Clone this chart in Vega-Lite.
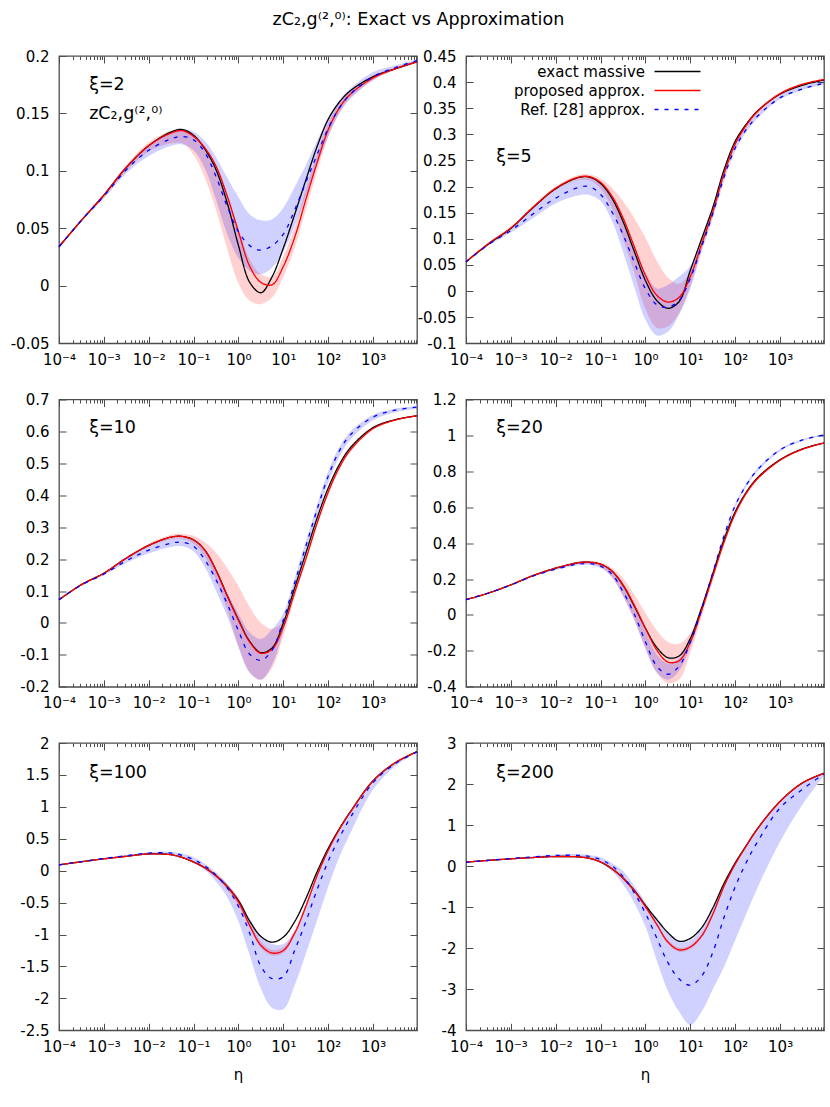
{
  "$schema": "https://vega.github.io/schema/vega-lite/v6.json",
  "background": "white",
  "padding": {"left": 9, "top": 10, "right": 5, "bottom": 10},
  "title": {"text": "zC₂,g⁽²,⁰⁾: Exact vs Approximation", "font": "DejaVu Sans", "fontSize": 17.5, "fontWeight": "normal", "color": "#000000", "anchor": "middle", "offset": 20},
  "datasets": {
    "d1": [
      {"eta": 0.0001, "ex": 0.034, "pr": 0.034, "rf": 0.034, "pl": 0.033, "ph": 0.035, "bl": 0.033, "bh": 0.035},
      {"eta": 0.000316, "ex": 0.057, "pr": 0.057, "rf": 0.057, "pl": 0.056, "ph": 0.058, "bl": 0.056, "bh": 0.058},
      {"eta": 0.001, "ex": 0.079, "pr": 0.079, "rf": 0.078, "pl": 0.077, "ph": 0.080, "bl": 0.076, "bh": 0.080},
      {"eta": 0.00316, "ex": 0.103, "pr": 0.103, "rf": 0.101, "pl": 0.100, "ph": 0.105, "bl": 0.098, "bh": 0.104},
      {"eta": 0.01, "ex": 0.122, "pr": 0.122, "rf": 0.118, "pl": 0.117, "ph": 0.125, "bl": 0.113, "bh": 0.122},
      {"eta": 0.0316, "ex": 0.134, "pr": 0.133, "rf": 0.128, "pl": 0.124, "ph": 0.135, "bl": 0.122, "bh": 0.134},
      {"eta": 0.0562, "ex": 0.136, "pr": 0.135, "rf": 0.130, "pl": 0.124, "ph": 0.136, "bl": 0.123, "bh": 0.136},
      {"eta": 0.1, "ex": 0.131, "pr": 0.130, "rf": 0.127, "pl": 0.114, "ph": 0.132, "bl": 0.118, "bh": 0.134},
      {"eta": 0.178, "ex": 0.119, "pr": 0.120, "rf": 0.116, "pl": 0.094, "ph": 0.121, "bl": 0.102, "bh": 0.126},
      {"eta": 0.316, "ex": 0.101, "pr": 0.104, "rf": 0.095, "pl": 0.066, "ph": 0.105, "bl": 0.075, "bh": 0.112},
      {"eta": 0.562, "ex": 0.072, "pr": 0.078, "rf": 0.069, "pl": 0.032, "ph": 0.080, "bl": 0.045, "bh": 0.094},
      {"eta": 1, "ex": 0.035, "pr": 0.047, "rf": 0.047, "pl": 0.002, "ph": 0.050, "bl": 0.024, "bh": 0.077},
      {"eta": 1.78, "ex": 0.003, "pr": 0.017, "rf": 0.035, "pl": -0.013, "ph": 0.023, "bl": 0.013, "bh": 0.062},
      {"eta": 3.16, "ex": -0.006, "pr": 0.003, "rf": 0.031, "pl": -0.016, "ph": 0.010, "bl": 0.010, "bh": 0.057},
      {"eta": 5.62, "ex": 0.008, "pr": 0.001, "rf": 0.035, "pl": -0.010, "ph": 0.008, "bl": 0.016, "bh": 0.058},
      {"eta": 10, "ex": 0.033, "pr": 0.017, "rf": 0.045, "pl": 0.008, "ph": 0.026, "bl": 0.030, "bh": 0.068},
      {"eta": 17.8, "ex": 0.062, "pr": 0.042, "rf": 0.066, "pl": 0.033, "ph": 0.051, "bl": 0.052, "bh": 0.086},
      {"eta": 31.6, "ex": 0.092, "pr": 0.075, "rf": 0.090, "pl": 0.066, "ph": 0.084, "bl": 0.078, "bh": 0.105},
      {"eta": 56.2, "ex": 0.121, "pr": 0.107, "rf": 0.114, "pl": 0.099, "ph": 0.115, "bl": 0.105, "bh": 0.126},
      {"eta": 100, "ex": 0.145, "pr": 0.136, "rf": 0.137, "pl": 0.130, "ph": 0.142, "bl": 0.130, "bh": 0.146},
      {"eta": 178, "ex": 0.160, "pr": 0.155, "rf": 0.155, "pl": 0.151, "ph": 0.159, "bl": 0.150, "bh": 0.162},
      {"eta": 316, "ex": 0.170, "pr": 0.167, "rf": 0.167, "pl": 0.164, "ph": 0.170, "bl": 0.163, "bh": 0.172},
      {"eta": 1000, "ex": 0.182, "pr": 0.181, "rf": 0.182, "pl": 0.179, "ph": 0.183, "bl": 0.179, "bh": 0.186},
      {"eta": 3162, "ex": 0.189, "pr": 0.189, "rf": 0.190, "pl": 0.188, "ph": 0.190, "bl": 0.188, "bh": 0.192},
      {"eta": 9500, "ex": 0.195, "pr": 0.195, "rf": 0.196, "pl": 0.194, "ph": 0.196, "bl": 0.194, "bh": 0.197}
    ],
    "d2": [
      {"eta": 0.0001, "ex": 0.056, "pr": 0.056, "rf": 0.056, "pl": 0.055, "ph": 0.057, "bl": 0.055, "bh": 0.057},
      {"eta": 0.000316, "ex": 0.090, "pr": 0.091, "rf": 0.089, "pl": 0.089, "ph": 0.092, "bl": 0.087, "bh": 0.091},
      {"eta": 0.001, "ex": 0.120, "pr": 0.121, "rf": 0.116, "pl": 0.119, "ph": 0.123, "bl": 0.112, "bh": 0.120},
      {"eta": 0.00316, "ex": 0.160, "pr": 0.161, "rf": 0.148, "pl": 0.158, "ph": 0.164, "bl": 0.140, "bh": 0.158},
      {"eta": 0.01, "ex": 0.196, "pr": 0.197, "rf": 0.178, "pl": 0.193, "ph": 0.200, "bl": 0.168, "bh": 0.194},
      {"eta": 0.0316, "ex": 0.217, "pr": 0.218, "rf": 0.198, "pl": 0.212, "ph": 0.222, "bl": 0.183, "bh": 0.214},
      {"eta": 0.0562, "ex": 0.218, "pr": 0.219, "rf": 0.200, "pl": 0.212, "ph": 0.223, "bl": 0.184, "bh": 0.216},
      {"eta": 0.1, "ex": 0.206, "pr": 0.208, "rf": 0.185, "pl": 0.196, "ph": 0.215, "bl": 0.172, "bh": 0.206},
      {"eta": 0.178, "ex": 0.178, "pr": 0.182, "rf": 0.152, "pl": 0.160, "ph": 0.198, "bl": 0.135, "bh": 0.180},
      {"eta": 0.316, "ex": 0.133, "pr": 0.140, "rf": 0.108, "pl": 0.100, "ph": 0.172, "bl": 0.075, "bh": 0.138},
      {"eta": 0.562, "ex": 0.076, "pr": 0.085, "rf": 0.055, "pl": 0.035, "ph": 0.140, "bl": 0.008, "bh": 0.085},
      {"eta": 1, "ex": 0.020, "pr": 0.030, "rf": 0.004, "pl": -0.035, "ph": 0.102, "bl": -0.055, "bh": 0.035},
      {"eta": 1.78, "ex": -0.018, "pr": -0.008, "rf": -0.026, "pl": -0.070, "ph": 0.058, "bl": -0.085, "bh": 0.005},
      {"eta": 3.16, "ex": -0.033, "pr": -0.021, "rf": -0.031, "pl": -0.068, "ph": 0.026, "bl": -0.078, "bh": 0.012},
      {"eta": 5.62, "ex": -0.020, "pr": -0.012, "rf": -0.018, "pl": -0.042, "ph": 0.014, "bl": -0.045, "bh": 0.028},
      {"eta": 10, "ex": 0.040, "pr": 0.028, "rf": 0.025, "pl": 0.010, "ph": 0.038, "bl": 0.005, "bh": 0.048},
      {"eta": 17.8, "ex": 0.100, "pr": 0.090, "rf": 0.085, "pl": 0.080, "ph": 0.098, "bl": 0.075, "bh": 0.100},
      {"eta": 31.6, "ex": 0.160, "pr": 0.152, "rf": 0.148, "pl": 0.145, "ph": 0.160, "bl": 0.140, "bh": 0.160},
      {"eta": 56.2, "ex": 0.232, "pr": 0.225, "rf": 0.218, "pl": 0.218, "ph": 0.232, "bl": 0.210, "bh": 0.228},
      {"eta": 100, "ex": 0.287, "pr": 0.282, "rf": 0.274, "pl": 0.276, "ph": 0.288, "bl": 0.268, "bh": 0.282},
      {"eta": 178, "ex": 0.320, "pr": 0.318, "rf": 0.310, "pl": 0.313, "ph": 0.322, "bl": 0.305, "bh": 0.316},
      {"eta": 316, "ex": 0.345, "pr": 0.344, "rf": 0.335, "pl": 0.340, "ph": 0.348, "bl": 0.331, "bh": 0.341},
      {"eta": 1000, "ex": 0.377, "pr": 0.378, "rf": 0.370, "pl": 0.375, "ph": 0.381, "bl": 0.367, "bh": 0.375},
      {"eta": 3162, "ex": 0.394, "pr": 0.396, "rf": 0.387, "pl": 0.393, "ph": 0.398, "bl": 0.385, "bh": 0.392},
      {"eta": 9500, "ex": 0.404, "pr": 0.405, "rf": 0.398, "pl": 0.403, "ph": 0.407, "bl": 0.396, "bh": 0.402}
    ],
    "d3": [
      {"eta": 0.0001, "ex": 0.073, "pr": 0.073, "rf": 0.073, "pl": 0.072, "ph": 0.074, "bl": 0.072, "bh": 0.074},
      {"eta": 0.000316, "ex": 0.120, "pr": 0.120, "rf": 0.119, "pl": 0.118, "ph": 0.121, "bl": 0.117, "bh": 0.121},
      {"eta": 0.001, "ex": 0.156, "pr": 0.156, "rf": 0.153, "pl": 0.154, "ph": 0.158, "bl": 0.150, "bh": 0.157},
      {"eta": 0.00316, "ex": 0.203, "pr": 0.203, "rf": 0.195, "pl": 0.200, "ph": 0.206, "bl": 0.188, "bh": 0.203},
      {"eta": 0.01, "ex": 0.243, "pr": 0.243, "rf": 0.228, "pl": 0.238, "ph": 0.249, "bl": 0.218, "bh": 0.240},
      {"eta": 0.0316, "ex": 0.269, "pr": 0.269, "rf": 0.250, "pl": 0.262, "ph": 0.276, "bl": 0.238, "bh": 0.265},
      {"eta": 0.0562, "ex": 0.271, "pr": 0.271, "rf": 0.253, "pl": 0.263, "ph": 0.279, "bl": 0.240, "bh": 0.268},
      {"eta": 0.1, "ex": 0.260, "pr": 0.260, "rf": 0.240, "pl": 0.249, "ph": 0.273, "bl": 0.224, "bh": 0.257},
      {"eta": 0.178, "ex": 0.228, "pr": 0.228, "rf": 0.198, "pl": 0.208, "ph": 0.253, "bl": 0.175, "bh": 0.225},
      {"eta": 0.316, "ex": 0.165, "pr": 0.165, "rf": 0.135, "pl": 0.135, "ph": 0.220, "bl": 0.100, "bh": 0.165},
      {"eta": 0.562, "ex": 0.085, "pr": 0.085, "rf": 0.060, "pl": 0.040, "ph": 0.172, "bl": 0.020, "bh": 0.095},
      {"eta": 1, "ex": 0.010, "pr": 0.008, "rf": -0.025, "pl": -0.075, "ph": 0.115, "bl": -0.075, "bh": 0.028},
      {"eta": 1.78, "ex": -0.058, "pr": -0.060, "rf": -0.098, "pl": -0.155, "ph": 0.050, "bl": -0.155, "bh": -0.030},
      {"eta": 3.16, "ex": -0.093, "pr": -0.095, "rf": -0.117, "pl": -0.178, "ph": 0.000, "bl": -0.178, "bh": -0.050},
      {"eta": 5.62, "ex": -0.078, "pr": -0.082, "rf": -0.085, "pl": -0.140, "ph": -0.018, "bl": -0.130, "bh": -0.020},
      {"eta": 10, "ex": 0.000, "pr": -0.012, "rf": 0.010, "pl": -0.040, "ph": 0.005, "bl": -0.025, "bh": 0.030},
      {"eta": 17.8, "ex": 0.110, "pr": 0.095, "rf": 0.125, "pl": 0.080, "ph": 0.105, "bl": 0.100, "bh": 0.140},
      {"eta": 31.6, "ex": 0.218, "pr": 0.200, "rf": 0.240, "pl": 0.190, "ph": 0.210, "bl": 0.218, "bh": 0.255},
      {"eta": 56.2, "ex": 0.328, "pr": 0.312, "rf": 0.355, "pl": 0.302, "ph": 0.320, "bl": 0.335, "bh": 0.370},
      {"eta": 100, "ex": 0.423, "pr": 0.410, "rf": 0.460, "pl": 0.400, "ph": 0.418, "bl": 0.440, "bh": 0.475},
      {"eta": 178, "ex": 0.497, "pr": 0.488, "rf": 0.540, "pl": 0.480, "ph": 0.495, "bl": 0.522, "bh": 0.552},
      {"eta": 316, "ex": 0.550, "pr": 0.543, "rf": 0.590, "pl": 0.537, "ph": 0.548, "bl": 0.575, "bh": 0.600},
      {"eta": 1000, "ex": 0.612, "pr": 0.609, "rf": 0.645, "pl": 0.605, "ph": 0.612, "bl": 0.635, "bh": 0.652},
      {"eta": 3162, "ex": 0.637, "pr": 0.636, "rf": 0.667, "pl": 0.634, "ph": 0.638, "bl": 0.660, "bh": 0.672},
      {"eta": 9500, "ex": 0.649, "pr": 0.649, "rf": 0.676, "pl": 0.647, "ph": 0.651, "bl": 0.671, "bh": 0.680}
    ],
    "d4": [
      {"eta": 0.0001, "ex": 0.085, "pr": 0.085, "rf": 0.085, "pl": 0.084, "ph": 0.086, "bl": 0.084, "bh": 0.086},
      {"eta": 0.000316, "ex": 0.122, "pr": 0.122, "rf": 0.122, "pl": 0.121, "ph": 0.123, "bl": 0.120, "bh": 0.124},
      {"eta": 0.001, "ex": 0.168, "pr": 0.168, "rf": 0.167, "pl": 0.166, "ph": 0.170, "bl": 0.165, "bh": 0.170},
      {"eta": 0.00316, "ex": 0.220, "pr": 0.220, "rf": 0.217, "pl": 0.217, "ph": 0.223, "bl": 0.213, "bh": 0.221},
      {"eta": 0.01, "ex": 0.261, "pr": 0.261, "rf": 0.255, "pl": 0.256, "ph": 0.266, "bl": 0.250, "bh": 0.260},
      {"eta": 0.0316, "ex": 0.291, "pr": 0.291, "rf": 0.283, "pl": 0.284, "ph": 0.298, "bl": 0.277, "bh": 0.290},
      {"eta": 0.0562, "ex": 0.294, "pr": 0.294, "rf": 0.286, "pl": 0.285, "ph": 0.301, "bl": 0.278, "bh": 0.292},
      {"eta": 0.1, "ex": 0.283, "pr": 0.283, "rf": 0.272, "pl": 0.268, "ph": 0.293, "bl": 0.262, "bh": 0.282},
      {"eta": 0.178, "ex": 0.245, "pr": 0.245, "rf": 0.228, "pl": 0.210, "ph": 0.262, "bl": 0.212, "bh": 0.243},
      {"eta": 0.316, "ex": 0.165, "pr": 0.168, "rf": 0.130, "pl": 0.105, "ph": 0.205, "bl": 0.105, "bh": 0.160},
      {"eta": 0.562, "ex": 0.050, "pr": 0.055, "rf": 0.005, "pl": -0.030, "ph": 0.115, "bl": -0.025, "bh": 0.045},
      {"eta": 1, "ex": -0.075, "pr": -0.075, "rf": -0.150, "pl": -0.185, "ph": 0.010, "bl": -0.190, "bh": -0.090},
      {"eta": 1.78, "ex": -0.180, "pr": -0.195, "rf": -0.285, "pl": -0.320, "ph": -0.085, "bl": -0.320, "bh": -0.220},
      {"eta": 3.16, "ex": -0.238, "pr": -0.262, "rf": -0.330, "pl": -0.380, "ph": -0.150, "bl": -0.360, "bh": -0.270},
      {"eta": 5.62, "ex": -0.228, "pr": -0.255, "rf": -0.285, "pl": -0.360, "ph": -0.160, "bl": -0.310, "bh": -0.240},
      {"eta": 10, "ex": -0.130, "pr": -0.150, "rf": -0.150, "pl": -0.210, "ph": -0.100, "bl": -0.175, "bh": -0.120},
      {"eta": 17.8, "ex": 0.040, "pr": 0.025, "rf": 0.030, "pl": -0.010, "ph": 0.050, "bl": 0.010, "bh": 0.045},
      {"eta": 31.6, "ex": 0.230, "pr": 0.215, "rf": 0.235, "pl": 0.195, "ph": 0.235, "bl": 0.220, "bh": 0.245},
      {"eta": 56.2, "ex": 0.420, "pr": 0.405, "rf": 0.440, "pl": 0.390, "ph": 0.420, "bl": 0.428, "bh": 0.450},
      {"eta": 100, "ex": 0.575, "pr": 0.565, "rf": 0.610, "pl": 0.552, "ph": 0.578, "bl": 0.598, "bh": 0.620},
      {"eta": 178, "ex": 0.685, "pr": 0.680, "rf": 0.725, "pl": 0.670, "ph": 0.690, "bl": 0.715, "bh": 0.735},
      {"eta": 316, "ex": 0.765, "pr": 0.760, "rf": 0.810, "pl": 0.752, "ph": 0.768, "bl": 0.800, "bh": 0.818},
      {"eta": 1000, "ex": 0.865, "pr": 0.862, "rf": 0.920, "pl": 0.858, "ph": 0.866, "bl": 0.912, "bh": 0.926},
      {"eta": 3162, "ex": 0.925, "pr": 0.923, "rf": 0.975, "pl": 0.920, "ph": 0.926, "bl": 0.969, "bh": 0.980},
      {"eta": 9500, "ex": 0.958, "pr": 0.958, "rf": 1.003, "pl": 0.955, "ph": 0.961, "bl": 0.998, "bh": 1.007}
    ],
    "d5": [
      {"eta": 0.0001, "ex": 0.092, "pr": 0.092, "rf": 0.092, "pl": 0.091, "ph": 0.093, "bl": 0.090, "bh": 0.094},
      {"eta": 0.000316, "ex": 0.140, "pr": 0.140, "rf": 0.142, "pl": 0.139, "ph": 0.141, "bl": 0.138, "bh": 0.146},
      {"eta": 0.001, "ex": 0.186, "pr": 0.186, "rf": 0.190, "pl": 0.185, "ph": 0.187, "bl": 0.184, "bh": 0.196},
      {"eta": 0.00316, "ex": 0.225, "pr": 0.225, "rf": 0.235, "pl": 0.223, "ph": 0.227, "bl": 0.225, "bh": 0.245},
      {"eta": 0.01, "ex": 0.262, "pr": 0.262, "rf": 0.275, "pl": 0.259, "ph": 0.265, "bl": 0.260, "bh": 0.290},
      {"eta": 0.0316, "ex": 0.250, "pr": 0.250, "rf": 0.275, "pl": 0.245, "ph": 0.256, "bl": 0.250, "bh": 0.298},
      {"eta": 0.0562, "ex": 0.205, "pr": 0.205, "rf": 0.240, "pl": 0.198, "ph": 0.214, "bl": 0.205, "bh": 0.268},
      {"eta": 0.1, "ex": 0.135, "pr": 0.135, "rf": 0.175, "pl": 0.120, "ph": 0.150, "bl": 0.130, "bh": 0.210},
      {"eta": 0.178, "ex": 0.045, "pr": 0.045, "rf": 0.075, "pl": 0.025, "ph": 0.065, "bl": 0.010, "bh": 0.110},
      {"eta": 0.316, "ex": -0.080, "pr": -0.080, "rf": -0.070, "pl": -0.110, "ph": -0.050, "bl": -0.170, "bh": -0.030},
      {"eta": 0.562, "ex": -0.250, "pr": -0.255, "rf": -0.270, "pl": -0.300, "ph": -0.210, "bl": -0.420, "bh": -0.200},
      {"eta": 1, "ex": -0.470, "pr": -0.490, "rf": -0.560, "pl": -0.550, "ph": -0.420, "bl": -0.800, "bh": -0.440},
      {"eta": 1.78, "ex": -0.790, "pr": -0.860, "rf": -0.980, "pl": -0.900, "ph": -0.780, "bl": -1.330, "bh": -0.760},
      {"eta": 3.16, "ex": -1.030, "pr": -1.170, "rf": -1.500, "pl": -1.210, "ph": -1.110, "bl": -1.850, "bh": -1.020},
      {"eta": 5.62, "ex": -1.120, "pr": -1.290, "rf": -1.690, "pl": -1.330, "ph": -1.240, "bl": -2.150, "bh": -1.150},
      {"eta": 10, "ex": -1.040, "pr": -1.250, "rf": -1.660, "pl": -1.290, "ph": -1.200, "bl": -2.170, "bh": -1.150},
      {"eta": 17.8, "ex": -0.800, "pr": -0.980, "rf": -1.250, "pl": -1.020, "ph": -0.940, "bl": -1.800, "bh": -0.950},
      {"eta": 31.6, "ex": -0.440, "pr": -0.560, "rf": -0.800, "pl": -0.600, "ph": -0.520, "bl": -1.300, "bh": -0.560},
      {"eta": 56.2, "ex": -0.020, "pr": -0.080, "rf": -0.300, "pl": -0.110, "ph": -0.050, "bl": -0.780, "bh": -0.080},
      {"eta": 100, "ex": 0.350, "pr": 0.320, "rf": 0.150, "pl": 0.300, "ph": 0.340, "bl": -0.250, "bh": 0.330},
      {"eta": 178, "ex": 0.660, "pr": 0.650, "rf": 0.520, "pl": 0.640, "ph": 0.660, "bl": 0.220, "bh": 0.660},
      {"eta": 316, "ex": 0.930, "pr": 0.925, "rf": 0.840, "pl": 0.915, "ph": 0.935, "bl": 0.600, "bh": 0.930},
      {"eta": 1000, "ex": 1.410, "pr": 1.405, "rf": 1.380, "pl": 1.400, "ph": 1.412, "bl": 1.270, "bh": 1.410},
      {"eta": 3162, "ex": 1.695, "pr": 1.695, "rf": 1.680, "pl": 1.690, "ph": 1.700, "bl": 1.640, "bh": 1.700},
      {"eta": 9500, "ex": 1.864, "pr": 1.864, "rf": 1.860, "pl": 1.860, "ph": 1.868, "bl": 1.850, "bh": 1.868}
    ],
    "d6": [
      {"eta": 0.0001, "ex": 0.097, "pr": 0.097, "rf": 0.097, "pl": 0.096, "ph": 0.098, "bl": 0.095, "bh": 0.099},
      {"eta": 0.000316, "ex": 0.140, "pr": 0.140, "rf": 0.142, "pl": 0.139, "ph": 0.141, "bl": 0.138, "bh": 0.146},
      {"eta": 0.001, "ex": 0.178, "pr": 0.178, "rf": 0.185, "pl": 0.177, "ph": 0.180, "bl": 0.178, "bh": 0.192},
      {"eta": 0.00316, "ex": 0.210, "pr": 0.210, "rf": 0.225, "pl": 0.208, "ph": 0.213, "bl": 0.213, "bh": 0.237},
      {"eta": 0.01, "ex": 0.234, "pr": 0.234, "rf": 0.260, "pl": 0.230, "ph": 0.238, "bl": 0.240, "bh": 0.282},
      {"eta": 0.0316, "ex": 0.225, "pr": 0.225, "rf": 0.262, "pl": 0.220, "ph": 0.232, "bl": 0.230, "bh": 0.292},
      {"eta": 0.0562, "ex": 0.190, "pr": 0.190, "rf": 0.235, "pl": 0.182, "ph": 0.200, "bl": 0.195, "bh": 0.272},
      {"eta": 0.1, "ex": 0.100, "pr": 0.100, "rf": 0.160, "pl": 0.085, "ph": 0.120, "bl": 0.080, "bh": 0.215},
      {"eta": 0.178, "ex": -0.065, "pr": -0.060, "rf": 0.010, "pl": -0.085, "ph": -0.035, "bl": -0.120, "bh": 0.070},
      {"eta": 0.316, "ex": -0.290, "pr": -0.295, "rf": -0.250, "pl": -0.335, "ph": -0.250, "bl": -0.450, "bh": -0.120},
      {"eta": 0.562, "ex": -0.590, "pr": -0.600, "rf": -0.650, "pl": -0.650, "ph": -0.550, "bl": -0.900, "bh": -0.480},
      {"eta": 1, "ex": -0.960, "pr": -0.990, "rf": -1.150, "pl": -1.040, "ph": -0.930, "bl": -1.480, "bh": -0.880},
      {"eta": 1.78, "ex": -1.300, "pr": -1.420, "rf": -1.750, "pl": -1.460, "ph": -1.380, "bl": -2.300, "bh": -1.300},
      {"eta": 3.16, "ex": -1.620, "pr": -1.850, "rf": -2.350, "pl": -1.900, "ph": -1.800, "bl": -3.050, "bh": -1.620},
      {"eta": 5.62, "ex": -1.830, "pr": -2.040, "rf": -2.750, "pl": -2.090, "ph": -1.990, "bl": -3.550, "bh": -1.830},
      {"eta": 10, "ex": -1.760, "pr": -1.970, "rf": -2.900, "pl": -2.020, "ph": -1.920, "bl": -3.870, "bh": -1.800},
      {"eta": 17.8, "ex": -1.500, "pr": -1.700, "rf": -2.680, "pl": -1.750, "ph": -1.650, "bl": -3.550, "bh": -1.520},
      {"eta": 31.6, "ex": -1.020, "pr": -1.170, "rf": -2.100, "pl": -1.220, "ph": -1.120, "bl": -3.000, "bh": -1.040},
      {"eta": 56.2, "ex": -0.420, "pr": -0.490, "rf": -1.250, "pl": -0.530, "ph": -0.450, "bl": -2.450, "bh": -0.430},
      {"eta": 100, "ex": 0.080, "pr": 0.050, "rf": -0.500, "pl": 0.020, "ph": 0.080, "bl": -1.800, "bh": 0.080},
      {"eta": 178, "ex": 0.510, "pr": 0.500, "rf": 0.100, "pl": 0.480, "ph": 0.520, "bl": -1.150, "bh": 0.510},
      {"eta": 316, "ex": 0.920, "pr": 0.915, "rf": 0.600, "pl": 0.900, "ph": 0.930, "bl": -0.520, "bh": 0.920},
      {"eta": 1000, "ex": 1.580, "pr": 1.575, "rf": 1.420, "pl": 1.565, "ph": 1.585, "bl": 0.600, "bh": 1.580},
      {"eta": 3162, "ex": 2.030, "pr": 2.030, "rf": 1.870, "pl": 2.025, "ph": 2.035, "bl": 1.500, "bh": 2.030},
      {"eta": 9500, "ex": 2.262, "pr": 2.262, "rf": 2.250, "pl": 2.255, "ph": 2.268, "bl": 2.200, "bh": 2.270}
    ]
  },
  "columns": 2,
  "spacing": {"row": 55.5, "column": 49},
  "bounds": "flush",
  "resolve": {"scale": {"color": "independent", "strokeDash": "independent"}, "legend": {"color": "independent", "strokeDash": "independent"}},
  "concat": [
    {
      "width": 358, "height": 287.3,
      "data": {"name": "d1"},
      "resolve": {"axis": {"x": "independent", "y": "independent"}},
      "layer": [
        {"mark": {"type": "area", "color": "#ff0000", "fillOpacity": 0.18, "interpolate": "catmull-rom"},
         "encoding": {
           "x": {"field": "eta", "type": "quantitative", "scale": {"type": "log", "domain": [0.0001, 9500], "nice": false}, "axis": {"orient": "bottom", "tickCount": 50, "labelExpr": "abs(log(datum.value)/LN10 - round(log(datum.value)/LN10)) < 0.001 ? '10' + ['⁻⁴','⁻³','⁻²','⁻¹','⁰','¹','²','³','⁴'][round(log(datum.value)/LN10)+4] : ''", "tickSize": {"condition": {"test": "abs(log(datum.value)/LN10 - round(log(datum.value)/LN10)) < 0.001", "value": -7}, "value": -3.5}, "labelPadding": 16, "labelFlush": false, "labelOverlap": false, "labelBound": false, "title": null}},
           "y": {"field": "pl", "type": "quantitative", "scale": {"domain": [-0.05, 0.2], "nice": false, "zero": false}, "axis": {"orient": "left", "values": [-0.05, 0, 0.05, 0.1, 0.15, 0.2], "format": "~g", "tickSize": -7, "labelPadding": 17, "title": null}},
           "y2": {"field": "ph"}}},
        {"mark": {"type": "area", "color": "#0000ff", "fillOpacity": 0.18, "interpolate": "catmull-rom"},
         "encoding": {
           "x": {"field": "eta", "type": "quantitative", "axis": {"orient": "top", "tickCount": 50, "labels": false, "tickSize": {"condition": {"test": "abs(log(datum.value)/LN10 - round(log(datum.value)/LN10)) < 0.001", "value": -7}, "value": -3.5}, "title": null}},
           "y": {"field": "bl", "type": "quantitative", "axis": {"orient": "right", "values": [-0.05, 0, 0.05, 0.1, 0.15, 0.2], "labels": false, "tickSize": -7, "title": null}},
           "y2": {"field": "bh"}}},
        {"transform": [{"fold": ["ex", "pr", "rf"], "as": ["s", "v"]}],
         "mark": {"type": "line", "strokeWidth": 1.3, "interpolate": "catmull-rom"},
         "encoding": {
           "x": {"field": "eta", "type": "quantitative", "axis": null},
           "y": {"field": "v", "type": "quantitative", "axis": null},
           "color": {"field": "s", "type": "nominal", "scale": {"domain": ["ex", "pr", "rf"], "range": ["#000000", "#ff0000", "#0000ff"]}, "legend": null},
           "strokeDash": {"field": "s", "type": "nominal", "scale": {"domain": ["ex", "pr", "rf"], "range": [[1, 0], [1, 0], [4, 6]]}, "legend": null}}},
        {"data": {"values": [{}]},
         "mark": {"type": "text", "font": "DejaVu Sans", "fontSize": 17.5, "align": "left", "baseline": "middle", "color": "#000000"},
         "encoding": {"x": {"datum": 0.00047, "type": "quantitative", "axis": null}, "y": {"datum": 0.1747, "type": "quantitative", "axis": null}, "text": {"value": "ξ=2"}}},
        {"data": {"values": [{}]},
         "mark": {"type": "text", "font": "DejaVu Sans", "fontSize": 17.5, "align": "left", "baseline": "middle", "color": "#000000"},
         "encoding": {"x": {"datum": 0.00047, "type": "quantitative", "axis": null}, "y": {"datum": 0.1495, "type": "quantitative", "axis": null}, "text": {"value": "zC₂,g⁽²,⁰⁾"}}}
      ]
    },
    {
      "width": 358, "height": 287.3,
      "data": {"name": "d2"},
      "resolve": {"axis": {"x": "independent", "y": "independent"}},
      "layer": [
        {"mark": {"type": "area", "color": "#ff0000", "fillOpacity": 0.18, "interpolate": "catmull-rom"},
         "encoding": {
           "x": {"field": "eta", "type": "quantitative", "scale": {"type": "log", "domain": [0.0001, 9500], "nice": false}, "axis": {"orient": "bottom", "tickCount": 50, "labelExpr": "abs(log(datum.value)/LN10 - round(log(datum.value)/LN10)) < 0.001 ? '10' + ['⁻⁴','⁻³','⁻²','⁻¹','⁰','¹','²','³','⁴'][round(log(datum.value)/LN10)+4] : ''", "tickSize": {"condition": {"test": "abs(log(datum.value)/LN10 - round(log(datum.value)/LN10)) < 0.001", "value": -7}, "value": -3.5}, "labelPadding": 16, "labelFlush": false, "labelOverlap": false, "labelBound": false, "title": null}},
           "y": {"field": "pl", "type": "quantitative", "scale": {"domain": [-0.1, 0.45], "nice": false, "zero": false}, "axis": {"orient": "left", "values": [-0.1, -0.05, 0, 0.05, 0.1, 0.15, 0.2, 0.25, 0.3, 0.35, 0.4, 0.45], "format": "~g", "tickSize": -7, "labelPadding": 17, "title": null}},
           "y2": {"field": "ph"}}},
        {"mark": {"type": "area", "color": "#0000ff", "fillOpacity": 0.18, "interpolate": "catmull-rom"},
         "encoding": {
           "x": {"field": "eta", "type": "quantitative", "axis": {"orient": "top", "tickCount": 50, "labels": false, "tickSize": {"condition": {"test": "abs(log(datum.value)/LN10 - round(log(datum.value)/LN10)) < 0.001", "value": -7}, "value": -3.5}, "title": null}},
           "y": {"field": "bl", "type": "quantitative", "axis": {"orient": "right", "values": [-0.1, -0.05, 0, 0.05, 0.1, 0.15, 0.2, 0.25, 0.3, 0.35, 0.4, 0.45], "labels": false, "tickSize": -7, "title": null}},
           "y2": {"field": "bh"}}},
        {"transform": [{"fold": ["ex", "pr", "rf"], "as": ["s", "v"]}],
         "mark": {"type": "line", "strokeWidth": 1.3, "interpolate": "catmull-rom"},
         "encoding": {
           "x": {"field": "eta", "type": "quantitative", "axis": null},
           "y": {"field": "v", "type": "quantitative", "axis": null},
           "color": {"field": "s", "type": "nominal", "scale": {"domain": ["ex", "pr", "rf"], "range": ["#000000", "#ff0000", "#0000ff"]},
             "legend": {"orient": "none", "legendX": 204, "legendY": 8, "title": null, "symbolType": "M-4,0H4", "symbolSize": 132.25, "symbolStrokeWidth": 1.3, "labelFont": "DejaVu Sans", "labelFontSize": 15, "labelColor": "#000000", "labelAlign": "right", "labelOffset": -40, "labelLimit": 400, "rowPadding": 3, "padding": 0, "labelExpr": "datum.label == 'ex' ? 'exact massive' : datum.label == 'pr' ? 'proposed approx.' : 'Ref. [28] approx.'"}},
           "strokeDash": {"field": "s", "type": "nominal", "scale": {"domain": ["ex", "pr", "rf"], "range": [[1, 0], [1, 0], [4, 6]]},
             "legend": {"orient": "none", "legendX": 204, "legendY": 8, "title": null, "symbolType": "M-4,0H4", "symbolSize": 132.25, "symbolStrokeWidth": 1.3, "labelFont": "DejaVu Sans", "labelFontSize": 15, "labelColor": "#000000", "labelAlign": "right", "labelOffset": -40, "labelLimit": 400, "rowPadding": 3, "padding": 0, "labelExpr": "datum.label == 'ex' ? 'exact massive' : datum.label == 'pr' ? 'proposed approx.' : 'Ref. [28] approx.'"}}}},
        {"data": {"values": [{}]},
         "mark": {"type": "text", "font": "DejaVu Sans", "fontSize": 17.5, "align": "left", "baseline": "middle", "color": "#000000"},
         "encoding": {"x": {"datum": 0.00047, "type": "quantitative", "axis": null}, "y": {"datum": 0.257, "type": "quantitative", "axis": null}, "text": {"value": "ξ=5"}}}
      ]
    },
    {
      "width": 358, "height": 287.3,
      "data": {"name": "d3"},
      "resolve": {"axis": {"x": "independent", "y": "independent"}},
      "layer": [
        {"mark": {"type": "area", "color": "#ff0000", "fillOpacity": 0.18, "interpolate": "catmull-rom"},
         "encoding": {
           "x": {"field": "eta", "type": "quantitative", "scale": {"type": "log", "domain": [0.0001, 9500], "nice": false}, "axis": {"orient": "bottom", "tickCount": 50, "labelExpr": "abs(log(datum.value)/LN10 - round(log(datum.value)/LN10)) < 0.001 ? '10' + ['⁻⁴','⁻³','⁻²','⁻¹','⁰','¹','²','³','⁴'][round(log(datum.value)/LN10)+4] : ''", "tickSize": {"condition": {"test": "abs(log(datum.value)/LN10 - round(log(datum.value)/LN10)) < 0.001", "value": -7}, "value": -3.5}, "labelPadding": 16, "labelFlush": false, "labelOverlap": false, "labelBound": false, "title": null}},
           "y": {"field": "pl", "type": "quantitative", "scale": {"domain": [-0.2, 0.7], "nice": false, "zero": false}, "axis": {"orient": "left", "values": [-0.2, -0.1, 0, 0.1, 0.2, 0.3, 0.4, 0.5, 0.6, 0.7], "format": "~g", "tickSize": -7, "labelPadding": 17, "title": null}},
           "y2": {"field": "ph"}}},
        {"mark": {"type": "area", "color": "#0000ff", "fillOpacity": 0.18, "interpolate": "catmull-rom"},
         "encoding": {
           "x": {"field": "eta", "type": "quantitative", "axis": {"orient": "top", "tickCount": 50, "labels": false, "tickSize": {"condition": {"test": "abs(log(datum.value)/LN10 - round(log(datum.value)/LN10)) < 0.001", "value": -7}, "value": -3.5}, "title": null}},
           "y": {"field": "bl", "type": "quantitative", "axis": {"orient": "right", "values": [-0.2, -0.1, 0, 0.1, 0.2, 0.3, 0.4, 0.5, 0.6, 0.7], "labels": false, "tickSize": -7, "title": null}},
           "y2": {"field": "bh"}}},
        {"transform": [{"fold": ["ex", "pr", "rf"], "as": ["s", "v"]}],
         "mark": {"type": "line", "strokeWidth": 1.3, "interpolate": "catmull-rom"},
         "encoding": {
           "x": {"field": "eta", "type": "quantitative", "axis": null},
           "y": {"field": "v", "type": "quantitative", "axis": null},
           "color": {"field": "s", "type": "nominal", "scale": {"domain": ["ex", "pr", "rf"], "range": ["#000000", "#ff0000", "#0000ff"]}, "legend": null},
           "strokeDash": {"field": "s", "type": "nominal", "scale": {"domain": ["ex", "pr", "rf"], "range": [[1, 0], [1, 0], [4, 6]]}, "legend": null}}},
        {"data": {"values": [{}]},
         "mark": {"type": "text", "font": "DejaVu Sans", "fontSize": 17.5, "align": "left", "baseline": "middle", "color": "#000000"},
         "encoding": {"x": {"datum": 0.00047, "type": "quantitative", "axis": null}, "y": {"datum": 0.6115, "type": "quantitative", "axis": null}, "text": {"value": "ξ=10"}}}
      ]
    },
    {
      "width": 358, "height": 287.3,
      "data": {"name": "d4"},
      "resolve": {"axis": {"x": "independent", "y": "independent"}},
      "layer": [
        {"mark": {"type": "area", "color": "#ff0000", "fillOpacity": 0.18, "interpolate": "catmull-rom"},
         "encoding": {
           "x": {"field": "eta", "type": "quantitative", "scale": {"type": "log", "domain": [0.0001, 9500], "nice": false}, "axis": {"orient": "bottom", "tickCount": 50, "labelExpr": "abs(log(datum.value)/LN10 - round(log(datum.value)/LN10)) < 0.001 ? '10' + ['⁻⁴','⁻³','⁻²','⁻¹','⁰','¹','²','³','⁴'][round(log(datum.value)/LN10)+4] : ''", "tickSize": {"condition": {"test": "abs(log(datum.value)/LN10 - round(log(datum.value)/LN10)) < 0.001", "value": -7}, "value": -3.5}, "labelPadding": 16, "labelFlush": false, "labelOverlap": false, "labelBound": false, "title": null}},
           "y": {"field": "pl", "type": "quantitative", "scale": {"domain": [-0.4, 1.2], "nice": false, "zero": false}, "axis": {"orient": "left", "values": [-0.4, -0.2, 0, 0.2, 0.4, 0.6, 0.8, 1, 1.2], "format": "~g", "tickSize": -7, "labelPadding": 17, "title": null}},
           "y2": {"field": "ph"}}},
        {"mark": {"type": "area", "color": "#0000ff", "fillOpacity": 0.18, "interpolate": "catmull-rom"},
         "encoding": {
           "x": {"field": "eta", "type": "quantitative", "axis": {"orient": "top", "tickCount": 50, "labels": false, "tickSize": {"condition": {"test": "abs(log(datum.value)/LN10 - round(log(datum.value)/LN10)) < 0.001", "value": -7}, "value": -3.5}, "title": null}},
           "y": {"field": "bl", "type": "quantitative", "axis": {"orient": "right", "values": [-0.4, -0.2, 0, 0.2, 0.4, 0.6, 0.8, 1, 1.2], "labels": false, "tickSize": -7, "title": null}},
           "y2": {"field": "bh"}}},
        {"transform": [{"fold": ["ex", "pr", "rf"], "as": ["s", "v"]}],
         "mark": {"type": "line", "strokeWidth": 1.3, "interpolate": "catmull-rom"},
         "encoding": {
           "x": {"field": "eta", "type": "quantitative", "axis": null},
           "y": {"field": "v", "type": "quantitative", "axis": null},
           "color": {"field": "s", "type": "nominal", "scale": {"domain": ["ex", "pr", "rf"], "range": ["#000000", "#ff0000", "#0000ff"]}, "legend": null},
           "strokeDash": {"field": "s", "type": "nominal", "scale": {"domain": ["ex", "pr", "rf"], "range": [[1, 0], [1, 0], [4, 6]]}, "legend": null}}},
        {"data": {"values": [{}]},
         "mark": {"type": "text", "font": "DejaVu Sans", "fontSize": 17.5, "align": "left", "baseline": "middle", "color": "#000000"},
         "encoding": {"x": {"datum": 0.00047, "type": "quantitative", "axis": null}, "y": {"datum": 1.043, "type": "quantitative", "axis": null}, "text": {"value": "ξ=20"}}}
      ]
    },
    {
      "width": 358, "height": 287.3,
      "data": {"name": "d5"},
      "resolve": {"axis": {"x": "independent", "y": "independent"}},
      "layer": [
        {"mark": {"type": "area", "color": "#ff0000", "fillOpacity": 0.18, "interpolate": "catmull-rom"},
         "encoding": {
           "x": {"field": "eta", "type": "quantitative", "scale": {"type": "log", "domain": [0.0001, 9500], "nice": false}, "axis": {"orient": "bottom", "tickCount": 50, "labelExpr": "abs(log(datum.value)/LN10 - round(log(datum.value)/LN10)) < 0.001 ? '10' + ['⁻⁴','⁻³','⁻²','⁻¹','⁰','¹','²','³','⁴'][round(log(datum.value)/LN10)+4] : ''", "tickSize": {"condition": {"test": "abs(log(datum.value)/LN10 - round(log(datum.value)/LN10)) < 0.001", "value": -7}, "value": -3.5}, "labelPadding": 16, "labelFlush": false, "labelOverlap": false, "labelBound": false, "title": "η", "titlePadding": 10}},
           "y": {"field": "pl", "type": "quantitative", "scale": {"domain": [-2.5, 2], "nice": false, "zero": false}, "axis": {"orient": "left", "values": [-2.5, -2, -1.5, -1, -0.5, 0, 0.5, 1, 1.5, 2], "format": "~g", "tickSize": -7, "labelPadding": 17, "title": null}},
           "y2": {"field": "ph"}}},
        {"mark": {"type": "area", "color": "#0000ff", "fillOpacity": 0.18, "interpolate": "catmull-rom"},
         "encoding": {
           "x": {"field": "eta", "type": "quantitative", "axis": {"orient": "top", "tickCount": 50, "labels": false, "tickSize": {"condition": {"test": "abs(log(datum.value)/LN10 - round(log(datum.value)/LN10)) < 0.001", "value": -7}, "value": -3.5}, "title": null}},
           "y": {"field": "bl", "type": "quantitative", "axis": {"orient": "right", "values": [-2.5, -2, -1.5, -1, -0.5, 0, 0.5, 1, 1.5, 2], "labels": false, "tickSize": -7, "title": null}},
           "y2": {"field": "bh"}}},
        {"transform": [{"fold": ["ex", "pr", "rf"], "as": ["s", "v"]}],
         "mark": {"type": "line", "strokeWidth": 1.3, "interpolate": "catmull-rom"},
         "encoding": {
           "x": {"field": "eta", "type": "quantitative", "axis": null},
           "y": {"field": "v", "type": "quantitative", "axis": null},
           "color": {"field": "s", "type": "nominal", "scale": {"domain": ["ex", "pr", "rf"], "range": ["#000000", "#ff0000", "#0000ff"]}, "legend": null},
           "strokeDash": {"field": "s", "type": "nominal", "scale": {"domain": ["ex", "pr", "rf"], "range": [[1, 0], [1, 0], [4, 6]]}, "legend": null}}},
        {"data": {"values": [{}]},
         "mark": {"type": "text", "font": "DejaVu Sans", "fontSize": 17.5, "align": "left", "baseline": "middle", "color": "#000000"},
         "encoding": {"x": {"datum": 0.00047, "type": "quantitative", "axis": null}, "y": {"datum": 1.536, "type": "quantitative", "axis": null}, "text": {"value": "ξ=100"}}}
      ]
    },
    {
      "width": 358, "height": 287.3,
      "data": {"name": "d6"},
      "resolve": {"axis": {"x": "independent", "y": "independent"}},
      "layer": [
        {"mark": {"type": "area", "color": "#ff0000", "fillOpacity": 0.18, "interpolate": "catmull-rom"},
         "encoding": {
           "x": {"field": "eta", "type": "quantitative", "scale": {"type": "log", "domain": [0.0001, 9500], "nice": false}, "axis": {"orient": "bottom", "tickCount": 50, "labelExpr": "abs(log(datum.value)/LN10 - round(log(datum.value)/LN10)) < 0.001 ? '10' + ['⁻⁴','⁻³','⁻²','⁻¹','⁰','¹','²','³','⁴'][round(log(datum.value)/LN10)+4] : ''", "tickSize": {"condition": {"test": "abs(log(datum.value)/LN10 - round(log(datum.value)/LN10)) < 0.001", "value": -7}, "value": -3.5}, "labelPadding": 16, "labelFlush": false, "labelOverlap": false, "labelBound": false, "title": "η", "titlePadding": 10}},
           "y": {"field": "pl", "type": "quantitative", "scale": {"domain": [-4, 3], "nice": false, "zero": false}, "axis": {"orient": "left", "values": [-4, -3, -2, -1, 0, 1, 2, 3], "format": "~g", "tickSize": -7, "labelPadding": 17, "title": null}},
           "y2": {"field": "ph"}}},
        {"mark": {"type": "area", "color": "#0000ff", "fillOpacity": 0.18, "interpolate": "catmull-rom"},
         "encoding": {
           "x": {"field": "eta", "type": "quantitative", "axis": {"orient": "top", "tickCount": 50, "labels": false, "tickSize": {"condition": {"test": "abs(log(datum.value)/LN10 - round(log(datum.value)/LN10)) < 0.001", "value": -7}, "value": -3.5}, "title": null}},
           "y": {"field": "bl", "type": "quantitative", "axis": {"orient": "right", "values": [-4, -3, -2, -1, 0, 1, 2, 3], "labels": false, "tickSize": -7, "title": null}},
           "y2": {"field": "bh"}}},
        {"transform": [{"fold": ["ex", "pr", "rf"], "as": ["s", "v"]}],
         "mark": {"type": "line", "strokeWidth": 1.3, "interpolate": "catmull-rom"},
         "encoding": {
           "x": {"field": "eta", "type": "quantitative", "axis": null},
           "y": {"field": "v", "type": "quantitative", "axis": null},
           "color": {"field": "s", "type": "nominal", "scale": {"domain": ["ex", "pr", "rf"], "range": ["#000000", "#ff0000", "#0000ff"]}, "legend": null},
           "strokeDash": {"field": "s", "type": "nominal", "scale": {"domain": ["ex", "pr", "rf"], "range": [[1, 0], [1, 0], [4, 6]]}, "legend": null}}},
        {"data": {"values": [{}]},
         "mark": {"type": "text", "font": "DejaVu Sans", "fontSize": 17.5, "align": "left", "baseline": "middle", "color": "#000000"},
         "encoding": {"x": {"datum": 0.00047, "type": "quantitative", "axis": null}, "y": {"datum": 2.278, "type": "quantitative", "axis": null}, "text": {"value": "ξ=200"}}}
      ]
    }
  ],
  "config": {
    "view": {"stroke": "#4d4d4d", "strokeWidth": 1.3},
    "axis": {"grid": false, "domain": false, "tickColor": "#4d4d4d", "tickWidth": 1, "labelFont": "DejaVu Sans", "labelFontSize": 15, "labelColor": "#000000", "titleFont": "DejaVu Sans", "titleFontSize": 15, "titleFontWeight": "normal", "titleColor": "#000000", "minExtent": 0},
    "locale": {"number": {"decimal": ".", "thousands": ",", "grouping": [3], "currency": ["$", ""], "minus": "-"}}
  }
}
